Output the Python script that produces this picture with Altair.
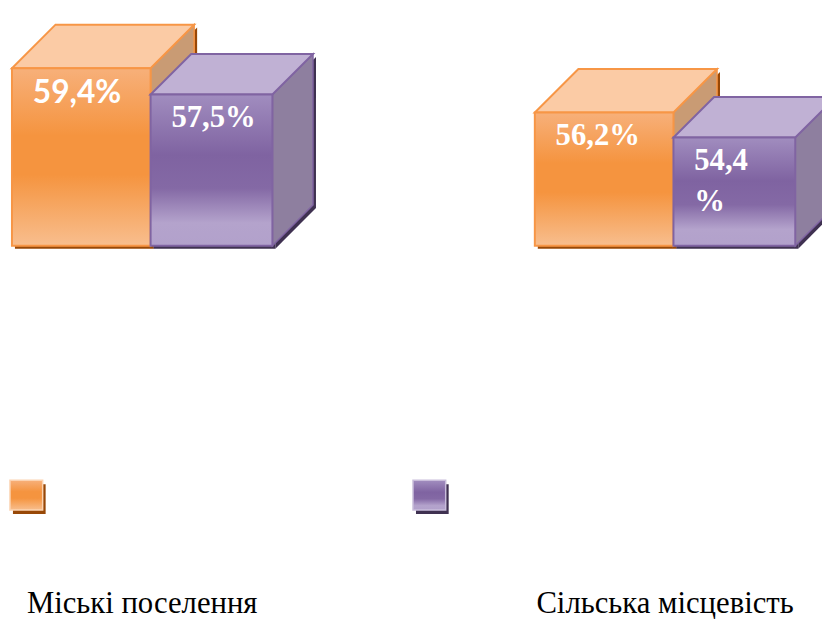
import altair as alt
import pandas as pd

# ---------------- data ----------------
CATEGORIES = ["Міські поселення", "Сільська місцевість"]
SERIES = ["Ряд 1", "Ряд 2"]
SERIES1_VALUES = [59.4, 56.2]
SERIES2_VALUES = [57.5, 54.4]
SERIES1_LABELS = ["59,4%", "56,2%"]
SERIES2_LABELS = ["57,5%", "54,4\n%"]

VALUES = [SERIES1_VALUES, SERIES2_VALUES]
LABELS = [SERIES1_LABELS, SERIES2_LABELS]

# ---------------- layout / style ----------------
W, H = 822, 611
PX = 14.0            # pixels per value unit
BASE = 46.6          # value at the floor of the bars
BASE_PX = 237        # pixel row of the floor
Y_DOMAIN = [BASE - (H - BASE_PX) / PX, BASE + BASE_PX / PX]
GROUP_X = [4, 532]
BAR_W = [140, 123]
DEPTH = [44, 41]
SH = 3
LEGEND_X = [2, 409]
SERIF = "Liberation Serif"

EDGE = ["#f79646", "#8064a2"]
TOP = ["#fbcba5", "#c0b1d4"]
SIDE = ["#c99b74", "#8e7f9f"]
SHADOW = ["#984807", "#3f3151"]
SWATCH_EDGE = ["#fcd3b1", "#c9bddb"]
GRAD = [
    [("#f7b07a", 0.0), ("#f5943f", 0.38), ("#f5943f", 0.6), ("#f8be8e", 1.0)],
    [("#a18dbf", 0.0), ("#7f63a1", 0.4), ("#8469a5", 0.62), ("#b4a3cc", 0.85), ("#b2a1cb", 1.0)],
]


def gradient(s):
    return alt.Gradient(
        gradient="linear",
        stops=[alt.GradientStop(color=c, offset=o) for c, o in GRAD[s]],
        x1=0, x2=0, y1=0, y2=1,
    )


xs = alt.Scale(domain=[0, W], zero=False, nice=False)
ys = alt.Scale(domain=Y_DOMAIN, zero=False, nice=False)
X = lambda f: alt.X(f, type="quantitative", scale=xs, axis=None)
Y = lambda f: alt.Y(f, type="quantitative", scale=ys, axis=None)

layers = []

# category labels (drawn first; nothing overlaps them)
cat = pd.DataFrame([dict(x=GROUP_X[g] + sum(BAR_W) / 2, cat=CATEGORIES[g]) for g in range(2)])
layers.append(alt.Chart(cat).mark_text(
    font=SERIF, fontSize=31, color="black", align="center", baseline="alphabetic").encode(
    x=X("x"), y=alt.value(608), text="cat:N"))

label_rows = []
for s in range(2):
    front, sh_front, side, sh_side, top = [], [], [], [], []
    for g in range(2):
        v = VALUES[s][g]
        xl = GROUP_X[g] + sum(BAR_W[:s])
        xr = xl + BAR_W[s]
        d = DEPTH[s]
        D = d / PX
        o = SH / PX
        bid = f"{s}-{g}"
        front.append(dict(xl=xl, xr=xr, y0=BASE, y1=v, cat=CATEGORIES[g], series=SERIES[s]))
        sh_front.append(dict(xl=xl + SH, xr=xr + SH, y0=BASE - o, y1=v - o))
        side += [dict(id=bid, x=xr, lo=BASE, hi=v), dict(id=bid, x=xr + d, lo=BASE + D, hi=v + D)]
        sh_side += [dict(id=bid, x=xr + SH, lo=BASE - o, hi=v - o),
                    dict(id=bid, x=xr + d + SH, lo=BASE + D - o, hi=v + D - o)]
        top += [dict(id=bid, x=xl, lo=v, hi=v), dict(id=bid, x=xl + d, lo=v, hi=v + D),
                dict(id=bid, x=xr, lo=v, hi=v + D), dict(id=bid, x=xr + d, lo=v + D, hi=v + D)]
        label_rows.append(dict(x=xl, y=v, label=LABELS[s][g], k=0 if (s == 0 and g == 0) else 1))

    layers.append(alt.Chart(pd.DataFrame(sh_front)).mark_rect(color=SHADOW[s]).encode(
        x=X("xl"), x2="xr", y=Y("y0"), y2="y1"))
    layers.append(alt.Chart(pd.DataFrame(sh_side)).mark_area(color=SHADOW[s], interpolate="linear").encode(
        x=X("x"), y=Y("lo"), y2="hi", detail="id:N"))
    layers.append(alt.Chart(pd.DataFrame(side)).mark_area(
        fill=SIDE[s], stroke=EDGE[s], strokeWidth=1.5, interpolate="linear").encode(
        x=X("x"), y=Y("lo"), y2="hi", detail="id:N"))
    layers.append(alt.Chart(pd.DataFrame(top)).mark_area(
        fill=TOP[s], stroke=EDGE[s], strokeWidth=2, interpolate="linear").encode(
        x=X("x"), y=Y("lo"), y2="hi", detail="id:N"))
    layers.append(alt.Chart(pd.DataFrame(front)).mark_rect(
        fill=gradient(s), stroke=EDGE[s], strokeWidth=2).encode(
        x=X("xl"), x2="xr", y=Y("y0"), y2="y1"))

# legend swatches (no labels, as in the original)
for s in range(2):
    sw = pd.DataFrame([dict(x0=LEGEND_X[s], x1=LEGEND_X[s] + 33, series=SERIES[s])])
    swsh = pd.DataFrame([dict(x0=LEGEND_X[s] + 3, x1=LEGEND_X[s] + 36)])
    layers.append(alt.Chart(swsh).mark_rect(color=SHADOW[s]).encode(
        x=X("x0"), x2="x1", y=alt.value(478), y2=alt.value(508)))
    layers.append(alt.Chart(sw).mark_rect(fill=gradient(s), stroke=SWATCH_EDGE[s], strokeWidth=1.5).encode(
        x=X("x0"), x2="x1", y=alt.value(474), y2=alt.value(504)))

lab = pd.DataFrame(label_rows)
serif_lab = lab[lab.k == 1][["x", "y", "label"]].reset_index(drop=True)
sans_lab = lab[lab.k == 0][["x", "y", "label"]].reset_index(drop=True)
layers.append(alt.Chart(serif_lab).mark_text(
    font=SERIF, fontWeight="bold", fontSize=31, color="white", align="left",
    baseline="alphabetic", dx=21, dy=33, lineBreak="\n", lineHeight=41).encode(
    x=X("x"), y=Y("y"), text="label:N"))
layers.append(alt.Chart(sans_lab).mark_text(
    font="Lato", fontWeight="bold", fontSize=32, color="white", align="left",
    baseline="alphabetic", dx=21, dy=35).encode(x=X("x"), y=Y("y"), text="label:N"))

chart = alt.layer(*layers).properties(
    width=W, height=H, padding=0, autosize=alt.AutoSizeParams(type="none")
).configure_view(stroke=None)

chart.save("out.html", embed_options={"renderer": "svg", "actions": False})
